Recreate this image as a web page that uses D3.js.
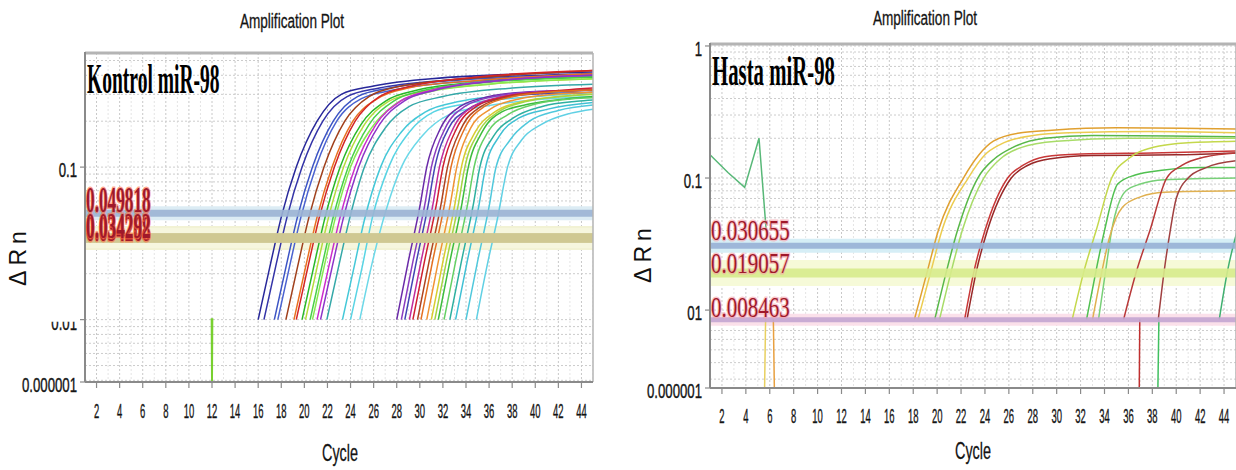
<!DOCTYPE html>
<html lang="en">
<head>
<meta charset="UTF-8">
<title>Amplification Plot</title>
<script src="https://d3js.org/d3.v7.min.js"></script>
<style>
  body { margin: 0; background: #fff; }
  svg { display: block; }
</style>
</head>
<body>
<script>
    // ---- data ----
    var cycleTicks = [2, 4, 6, 8, 10, 12, 14, 16, 18, 20, 22, 24, 26, 28, 30, 32, 34, 36, 38, 40, 42, 44];

    // bottom of each axis is labelled "0.000001" in the original
    var kontrolYMin = 0.0039, kontrolYMax = 0.56;
    var kontrolYTicks = [kontrolYMin, 0.01, 0.1];
    var kontrolYLabels = ["0.000001", "0.01", "0.1"];
    var hastaYMin = 0.00257, hastaYMax = 1.035;
    var hastaYTicks = [hastaYMin, 0.01, 0.1, 1];
    var hastaYLabels = ["0.000001", "01", "0.1", "1"];

    var kontrolThresholds = [0.049818, 0.034268, 0.034292];
    var hastaThresholds = [0.030655, 0.019057, 0.008463];

    // Kontrol: early group of curves [cycle, dRn]
    var kontrolEarly = [
        [[16, .01], [17, .022], [18, .047], [19.3, .1], [21.1, .2], [23.2, .3], [26, .34], [31, .38], [45, .42]],
        [[16.5, .01], [17.5, .022], [18.5, .047], [19.8, .1], [21.6, .2], [23.7, .29], [26.5, .33], [32, .37], [45, .41]],
        [[17.4, .01], [18.4, .022], [19.4, .047], [20.7, .1], [22.5, .2], [24.6, .29], [27.4, .33], [33, .37], [45, .40]],
        [[17.7, .01], [18.7, .022], [19.7, .047], [21, .1], [22.8, .2], [24.9, .28], [27.7, .32], [33, .36], [45, .39]],
        [[18.4, .01], [19.4, .022], [20.4, .047], [21.7, .1], [23.5, .2], [25.6, .29], [28.4, .34], [34, .38], [45, .43]],
        [[19.1, .01], [20.1, .022], [21.1, .047], [22.4, .1], [24.2, .2], [26.3, .28], [29, .33], [35, .37], [45, .41]],
        [[19.3, .01], [20.3, .022], [21.3, .047], [22.6, .1], [24.4, .2], [26.5, .29], [29.3, .34], [35, .39], [45, .43]],
        [[19.8, .01], [20.8, .022], [21.8, .047], [23.1, .1], [24.9, .19], [27, .27], [29.8, .32], [35, .36], [45, .39]],
        [[20.1, .01], [21.1, .022], [22.1, .047], [23.4, .1], [25.2, .19], [27.3, .27], [30, .31], [36, .35], [45, .38]],
        [[20.5, .01], [21.5, .022], [22.5, .047], [23.8, .1], [25.6, .19], [27.7, .27], [30.5, .32], [36, .36], [45, .39]],
        [[20.7, .01], [21.7, .022], [22.7, .047], [24, .1], [25.8, .18], [27.9, .26], [30.7, .31], [36, .35], [45, .38]],
        [[21.1, .01], [22.1, .022], [23.1, .047], [24.4, .1], [26.2, .19], [28.3, .27], [31.1, .32], [37, .37], [45, .40]],
        [[21.4, .01], [22.4, .022], [23.4, .047], [24.7, .1], [26.5, .19], [28.6, .27], [31.4, .32], [37, .37], [45, .40]],
        [[21.95, .01], [22.95, .022], [23.95, .047], [25.2, .1], [27, .18], [29.1, .25], [32, .29], [38, .33], [45, .35]],
        [[23.3, .01], [24.3, .022], [25.2, .045], [26.6, .1], [28.4, .17], [30.5, .23], [33.5, .27], [39, .30], [45, .32]],
        [[24.0, .01], [25, .022], [25.9, .047], [27.3, .1], [29.1, .17], [31.2, .23], [34, .26], [40, .29], [45, .31]],
        [[24.8, .01], [25.9, .024], [27, .05], [28.4, .1], [30.2, .16], [32.5, .22], [35.5, .25], [41, .28], [45, .29]]
    ];
    var kontrolEarlyColors = ["#28289a", "#3434a8", "#3c54c4", "#4a62d0", "#a0401c", "#e87020", "#d42424", "#28b828",
        "#b4dc3c", "#48d048", "#88e850", "#cc2ccc", "#8c34c8", "#34a8a8", "#44c8d8", "#58d4e4", "#6cd8e8"];

    // Kontrol: late group
    var kontrolLate = [
        [[28, .01], [29, .024], [30, .055], [30.6, .1], [31.8, .18], [33.5, .25], [36, .29], [39, .31], [45, .32]],
        [[28.4, .01], [29.4, .024], [30.4, .055], [31, .1], [32.2, .18], [33.9, .25], [36.4, .29], [39.4, .31], [45, .32]],
        [[28.7, .01], [29.7, .024], [30.7, .055], [31.3, .1], [32.5, .18], [34.2, .24], [36.7, .28], [39.7, .30], [45, .31]],
        [[29.1, .01], [30.1, .024], [31.1, .055], [31.7, .1], [32.9, .18], [34.6, .25], [37.1, .29], [40.1, .31], [45, .32]],
        [[29.4, .01], [30.4, .024], [31.4, .055], [32, .1], [33.2, .18], [34.9, .25], [37.4, .29], [40.4, .31], [45, .33]],
        [[29.8, .01], [30.8, .024], [31.8, .055], [32.4, .1], [33.6, .18], [35.3, .25], [37.8, .29], [40.8, .31], [45, .32]],
        [[30.1, .01], [31.1, .024], [32.1, .055], [32.7, .1], [33.9, .18], [35.6, .25], [38.1, .29], [41.1, .31], [45, .32]],
        [[30.6, .01], [31.6, .024], [32.6, .055], [33.2, .1], [34.4, .18], [36.1, .24], [38.6, .28], [41.6, .30], [45, .31]],
        [[31, .01], [32, .024], [33, .055], [33.6, .1], [34.8, .17], [36.5, .23], [39, .27], [42, .29], [45, .30]],
        [[31.3, .01], [32.3, .024], [33.3, .055], [33.9, .1], [35.1, .17], [36.8, .23], [39.3, .27], [42.3, .29], [45, .30]],
        [[31.6, .01], [32.6, .024], [33.6, .055], [34.2, .1], [35.4, .17], [37.1, .23], [39.6, .26], [42.6, .28], [45, .29]],
        [[32.1, .01], [33.1, .024], [34.1, .055], [34.7, .1], [35.9, .17], [37.6, .22], [40.1, .26], [43.1, .28], [45, .285]],
        [[32.6, .01], [33.6, .024], [34.6, .055], [35.2, .1], [36.4, .16], [38.1, .21], [40.6, .25], [43.6, .27], [45, .275]],
        [[33.1, .01], [34.1, .024], [35.1, .055], [35.7, .1], [36.9, .16], [38.6, .21], [41.1, .24], [45, .265]],
        [[34, .01], [35, .024], [36, .055], [36.6, .1], [37.8, .15], [39.5, .2], [42, .235], [45, .255]],
        [[34.9, .01], [35.9, .024], [36.7, .045], [37.6, .1], [38.8, .15], [40.5, .19], [43, .225], [45, .24]]
    ];
    var kontrolLateColors = ["#6a2aa8", "#8a3cc0", "#4444b4", "#c02c9c", "#d02030", "#b04420", "#e47020", "#f09434",
        "#d8cc30", "#a4d444", "#3cbc3c", "#64d064", "#2eb0a0", "#40c0d4", "#50c8dc", "#60d0e4"];

    // straight segments (spikes going off the bottom)
    var kontrolSpikes = [
        [[11.95, .0102], [12.0, .002], [12.05, .0102]]
    ];
    var kontrolSpikeColors = ["#78d030"];

    // Hasta curves
    var hastaCurves = [
        [[18.1, .0085], [19.2, .02], [20.1, .04], [22.2, .1], [23.5, .15], [24.7, .19], [27, .22], [29.6, .23], [35, .24], [45, .235]],
        [[18.4, .0085], [19.5, .02], [20.4, .04], [22.6, .1], [24, .15], [25.3, .18], [28, .21], [31, .22], [38, .225], [45, .22]],
        [[19.8, .0085], [20.8, .02], [21.7, .04], [23.4, .1], [24.8, .14], [26.3, .17], [29, .2], [33, .21], [45, .205]],
        [[20.2, .0085], [21.2, .02], [22.1, .04], [23.9, .1], [25.3, .14], [27, .17], [30, .19], [36, .2], [45, .2]],
        [[22.3, .0085], [23.1, .02], [24, .04], [25.9, .1], [27.2, .125], [29, .145], [32, .152], [38, .155], [45, .16]],
        [[22.5, .0085], [23.3, .02], [24.2, .04], [26.2, .1], [27.6, .125], [29.5, .14], [33, .148], [40, .15], [45, .155]],
        [[31.3, .0085], [32.3, .02], [33.3, .04], [34.6, .1], [36, .14], [38, .17], [41, .185], [45, .19]],
        [[32.5, .0085], [33.3, .02], [34, .04], [35.1, .09], [36.5, .105], [39, .115], [42, .12], [45, .12]],
        [[33.5, .0085], [34.1, .02], [34.6, .04], [35.8, .08], [37, .09], [39, .097], [45, .1]],
        [[33, .0085], [33.8, .02], [34.4, .035], [35.5, .06], [37, .072], [39, .078], [45, .08]],
        [[35.6, .0085], [36.7, .02], [37.8, .04], [39.2, .1], [40.5, .125], [42.5, .145], [45, .155]],
        [[38.5, .0085], [39, .02], [39.5, .04], [40, .07], [41, .1], [42.5, .12], [45, .135]],
        [[43.6, .0085], [44.3, .02], [45.1, .04]]
    ];
    var hastaCurveColors = ["#e0a030", "#eccc50", "#58b848", "#a8dc68", "#c83838", "#982828", "#c4d84c", "#50c050",
        "#78d078", "#e0b050", "#b83838", "#a04040", "#40b070"];

    var hastaSpikes = [
        [[1, .15], [2.5, .11], [3.9, .085], [5.1, .2], [5.7, .04]],
        [[5.65, .0085], [5.55, .002]],
        [[6.3, .0085], [6.4, .002]],
        [[36.95, .0085], [36.9, .002]],
        [[38.55, .0085], [38.45, .002]]
    ];
    var hastaSpikeColors = ["#58b878", "#e8d060", "#e8a040", "#c03030", "#40c060"];

    // ---- drawing ----
    var svg = d3.select('body').append('svg')
        .attr('width', 1236)
        .attr('height', 470);
    var defs = svg.append('defs');

    // text squeezed horizontally, like the condensed fonts of the original
    function squeezed(g, str, x, y, size, sx, anchor, family, weight, fill) {
        return g.append('text')
            .attr('transform', 'translate(' + x + ',' + y + ') scale(' + sx + ',1)')
            .attr('text-anchor', anchor)
            .style('font-family', family)
            .style('font-size', size + 'px')
            .style('font-weight', weight || 'normal')
            .attr('fill', fill || '#111')
            .text(str);
    }

    var SANS = '"Liberation Sans", Arial, sans-serif';
    var SERIF = '"Liberation Serif", "Times New Roman", serif';

    function drawPanel(p) {
        var g = svg.append('g');
        var x = d3.scaleLinear().domain([1, 45]).range([p.x0, p.x1]);
        var y = d3.scaleLog().domain([p.yMin, p.yMax]).range([p.y1, p.y0]);

        defs.append('clipPath').attr('id', 'clip-' + p.id)
            .append('rect')
            .attr('x', p.x0).attr('y', p.y0)
            .attr('width', p.x1 - p.x0).attr('height', p.y1 - p.y0);
        var plot = g.append('g').attr('clip-path', 'url(#clip-' + p.id + ')');

        // grid
        plot.selectAll('.vgrid').data(d3.range(1, 46)).enter().append('line')
            .attr('x1', function(d) { return x(d); })
            .attr('x2', function(d) { return x(d); })
            .attr('y1', p.y0).attr('y2', p.y1)
            .attr('stroke', function(d) { return d % 2 === 0 ? '#c8c8c8' : '#e4e4e4'; })
            .attr('stroke-dasharray', '2,2');
        plot.selectAll('.hgrid').data(y.ticks()).enter().append('line')
            .attr('x1', p.x0).attr('x2', p.x1)
            .attr('y1', function(d) { return y(d); })
            .attr('y2', function(d) { return y(d); })
            .attr('stroke', '#cccccc')
            .attr('stroke-dasharray', '2,2');

        // threshold halos
        plot.selectAll('.halo').data(p.thresholds).enter().append('line')
            .attr('x1', p.x0).attr('x2', p.x1)
            .attr('y1', function(d) { return y(d); })
            .attr('y2', function(d) { return y(d); })
            .attr('stroke', function(d, i) { return p.haloColors[i]; })
            .attr('stroke-width', function(d, i) { return p.haloWidths[i]; });

        var smooth = d3.line()
            .x(function(d) { return x(d[0]); })
            .y(function(d) { return y(d[1]); })
            .curve(d3.curveMonotoneX);
        var straight = d3.line()
            .x(function(d) { return x(d[0]); })
            .y(function(d) { return y(d[1]); });

        p.groups.forEach(function(grp) {
            plot.append('g').selectAll('path').data(grp.curves).enter().append('path')
                .attr('d', grp.straight ? straight : smooth)
                .attr('fill', 'none')
                .attr('stroke', function(d, i) { return grp.colors[i]; })
                .attr('stroke-width', 1.5);
        });

        // threshold bands
        plot.selectAll('.band').data(p.thresholds).enter().append('line')
            .attr('x1', p.x0).attr('x2', p.x1)
            .attr('y1', function(d) { return y(d); })
            .attr('y2', function(d) { return y(d); })
            .attr('stroke', function(d, i) { return p.bandColors[i]; })
            .attr('stroke-width', function(d, i) { return p.bandWidths[i]; })
            .attr('opacity', 0.9);

        // frame
        g.append('line').attr('x1', p.x0).attr('x2', p.x1).attr('y1', p.y0).attr('y2', p.y0)
            .attr('stroke', '#b4b4b4').attr('stroke-width', 3);
        g.append('line').attr('x1', p.x1).attr('x2', p.x1).attr('y1', p.y0).attr('y2', p.y1)
            .attr('stroke', '#b4b4b4').attr('stroke-width', 1.5);
        g.append('line').attr('x1', p.x0).attr('x2', p.x0).attr('y1', p.y0 - 1).attr('y2', p.y1)
            .attr('stroke', '#8a8a8a').attr('stroke-width', 2);
        g.append('line').attr('x1', p.x0).attr('x2', p.x1).attr('y1', p.y1).attr('y2', p.y1)
            .attr('stroke', '#8a8a8a').attr('stroke-width', 2);

        // x ticks
        g.selectAll('.xt').data(cycleTicks).enter().append('line')
            .attr('x1', function(d) { return x(d); })
            .attr('x2', function(d) { return x(d); })
            .attr('y1', p.y1).attr('y2', p.y1 + 6)
            .attr('stroke', '#8a8a8a').attr('stroke-width', 1.2);
        cycleTicks.forEach(function(d) {
            squeezed(g, String(d), x(d), p.y1 + p.xLabelDy, 21, 0.45, 'middle', SANS)
                .attr('stroke', '#222').attr('stroke-width', 0.4);
        });

        // y ticks
        p.yTicks.forEach(function(v, i) {
            g.append('line').attr('x1', p.x0 - 5).attr('x2', p.x0)
                .attr('y1', y(v)).attr('y2', y(v))
                .attr('stroke', '#8a8a8a').attr('stroke-width', 1.2);
            var holder = g.append('g');
            squeezed(holder, p.yLabels[i], p.x0 - 8, y(v) + 10, 20, 0.66, 'end', SANS)
                .attr('stroke', '#222').attr('stroke-width', 0.4);
            if (p.cutLabel === i) {
                // the original shows only the lower half of this label
                defs.append('clipPath').attr('id', 'cut-' + p.id)
                    .append('rect').attr('x', 0).attr('y', y(v) + 2).attr('width', p.x0).attr('height', 30);
                holder.attr('clip-path', 'url(#cut-' + p.id + ')');
            }
        });

        // threshold labels
        p.thresholds.forEach(function(v, i) {
            squeezed(g, v.toFixed(6), p.x0 + 1, y(v) + p.thLabelDy[i], p.thSize, p.thSx, 'start', SERIF, p.thWeight, '#a0182a')
                .attr('stroke', p.thGlow)
                .attr('stroke-width', 3)
                .attr('stroke-opacity', 0.6)
                .style('paint-order', 'stroke');
        });

        // texts
        squeezed(g, 'Amplification Plot', p.titleX, p.titleY, 20, 0.68, 'middle', SANS)
            .attr('stroke', '#222').attr('stroke-width', 0.3);
        squeezed(g, 'Cycle', p.cycleX, p.cycleY, 24, 0.6, 'middle', SANS)
            .attr('stroke', '#222').attr('stroke-width', 0.3);
        g.append('text')
            .attr('transform', 'translate(' + p.drnX + ',' + p.drnY + ') rotate(-90)')
            .attr('text-anchor', 'middle')
            .style('font-family', SANS)
            .style('font-size', '23px')
            .style('letter-spacing', '5px')
            .attr('fill', '#111')
            .text('ΔRn');
        squeezed(g, p.name, p.x0 + 2, p.nameY, 42, p.nameSx, 'start', SERIF, 'bold', '#000');
    }

    drawPanel({
        id: 'kontrol', name: 'Kontrol miR-98', nameY: 93, nameSx: 0.465,
        x0: 85, x1: 593, y0: 53, y1: 382,
        yMin: kontrolYMin, yMax: kontrolYMax,
        yTicks: kontrolYTicks, yLabels: kontrolYLabels, cutLabel: 1,
        xLabelDy: 36,
        thresholds: kontrolThresholds,
        bandColors: ['#9cb4d4', '#cfc892', '#cfc892'],
        bandWidths: [7, 10, 8],
        haloColors: ['#dcecf4', '#f2f2d4', '#f6f6de'],
        haloWidths: [14, 24, 20],
        thLabelDy: [-1, 3, 0], thSize: 36, thSx: 0.48, thWeight: 'bold', thGlow: '#ff6a40',
        titleX: 292, titleY: 28, cycleX: 340, cycleY: 461, drnX: 26, drnY: 256,
        groups: [
            { curves: kontrolEarly, colors: kontrolEarlyColors },
            { curves: kontrolLate, colors: kontrolLateColors },
            { curves: kontrolSpikes, colors: kontrolSpikeColors, straight: true }
        ]
    });

    drawPanel({
        id: 'hasta', name: 'Hasta miR-98', nameY: 85, nameSx: 0.495,
        x0: 710, x1: 1236, y0: 44, y1: 388,
        yMin: hastaYMin, yMax: hastaYMax,
        yTicks: hastaYTicks, yLabels: hastaYLabels, cutLabel: -1,
        xLabelDy: 35,
        thresholds: hastaThresholds,
        bandColors: ['#98b2d6', '#d8ec8c', '#c4a6d2'],
        bandWidths: [6, 9, 5],
        haloColors: ['#d6eef6', '#f6fad8', '#fbe0ea'],
        haloWidths: [14, 26, 12],
        thLabelDy: [-6, 0, -3], thSize: 30, thSx: 0.7, thWeight: 'normal', thGlow: '#f6a0a8',
        titleX: 925, titleY: 25, cycleX: 973, cycleY: 459, drnX: 651, drnY: 253,
        groups: [
            { curves: hastaCurves, colors: hastaCurveColors },
            { curves: hastaSpikes, colors: hastaSpikeColors, straight: true }
        ]
    });
</script>
</body>
</html>
